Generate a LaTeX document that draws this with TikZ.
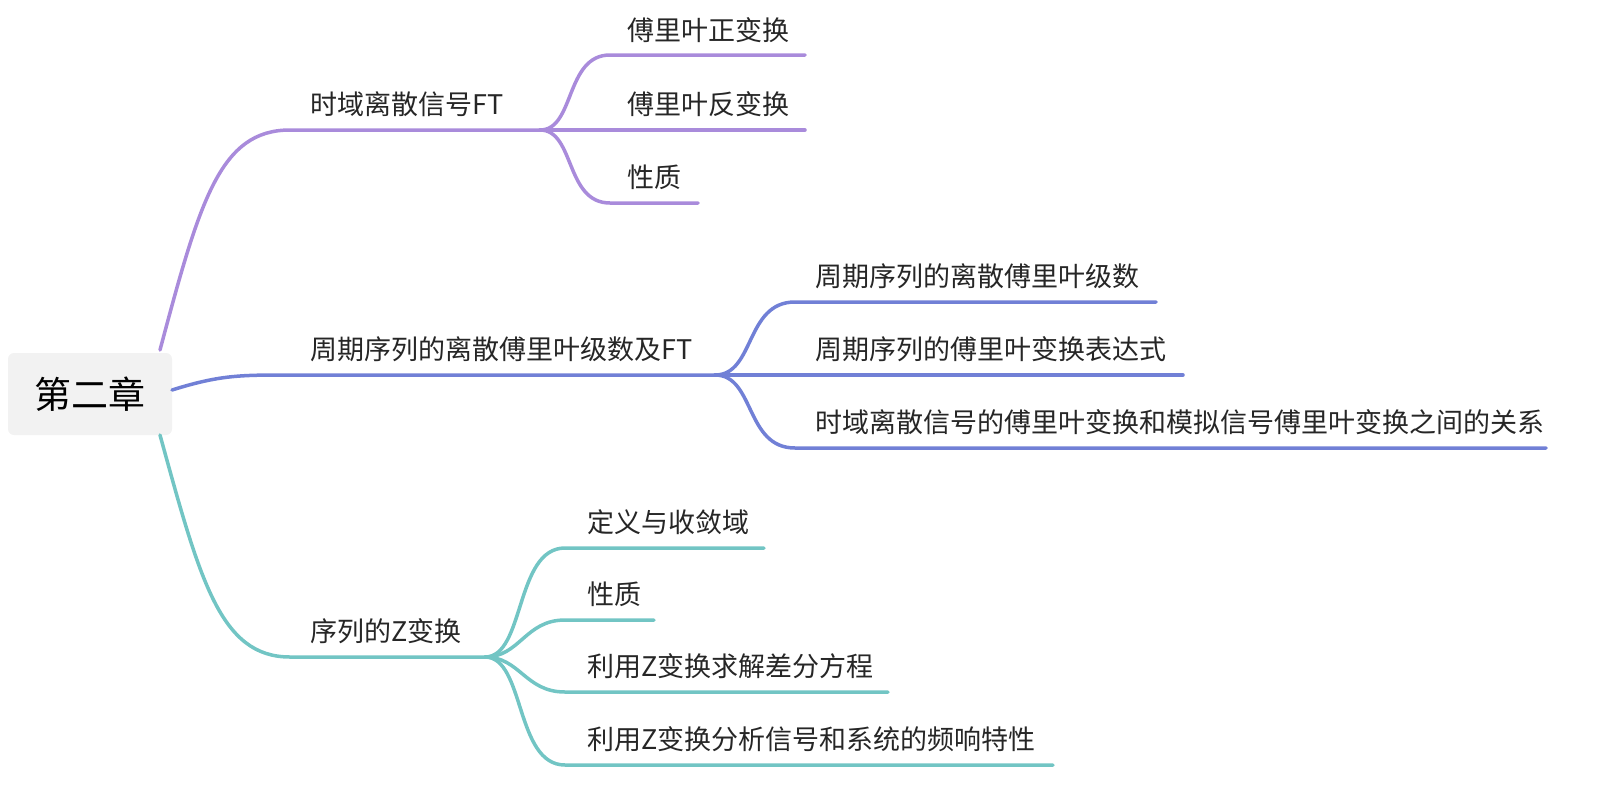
\documentclass[tikz,border=0pt]{standalone}
\usepackage{fontspec}
\setmainfont{Noto Sans CJK SC}
\definecolor{purpleL}{HTML}{A98BDB}
\definecolor{blueL}{HTML}{7180D6}
\definecolor{tealL}{HTML}{72C5C4}
\begin{document}
\begin{tikzpicture}[x=1pt,y=-1pt,
  lbl/.style={anchor=west,font=\fontsize{27}{30}\selectfont,text=black!85,inner sep=0pt},
  cP/.style={draw=purpleL,line width=3.5pt,line cap=round},
  cB/.style={draw=blueL,line width=3.5pt,line cap=round},
  cT/.style={draw=tealL,line width=3.5pt,line cap=round}]
\useasboundingbox (0,0) rectangle (1620,796);
\node[fill=black!5,rounded corners=6pt,minimum width=164pt,minimum height=82pt,font=\fontsize{37}{40}\selectfont] (root) at (90,394) {第二章};
% level 1
\node[lbl] (a) at (310,104) {时域离散信号FT};
\node[lbl] (b) at (310,349) {周期序列的离散傅里叶级数及FT};
\node[lbl] (c) at (310,631) {序列的Z变换};
\coordinate (ae) at (540,130); \coordinate (be) at (715,375); \coordinate (ce) at (485,657);
\draw[cP] (160,350) .. controls (200,200) and (220,130) .. (290,130) -- (ae);
\draw[cB] (172,390) .. controls (220,375) and (240,375) .. (290,375) -- (be);
\draw[cT] (160,435) .. controls (200,580) and (220,657) .. (290,657) -- (ce);
% children a
\node[lbl] (a1) at (627,30) {傅里叶正变换};
\node[lbl] (a2) at (627,104) {傅里叶反变换};
\node[lbl] (a3) at (627,177) {性质};
\draw[cP] (ae) .. controls (575,130) and (565,55) .. (610,55) -- (805,55);
\draw[cP] (ae) -- (805,130);
\draw[cP] (ae) .. controls (575,130) and (565,203) .. (610,203) -- (698,203);
% children b
\node[lbl] (b1) at (815,276) {周期序列的离散傅里叶级数};
\node[lbl] (b2) at (815,349) {周期序列的傅里叶变换表达式};
\node[lbl] (b3) at (815,422) {时域离散信号的傅里叶变换和模拟信号傅里叶变换之间的关系};
\draw[cB] (be) .. controls (755,375) and (745,302) .. (795,302) -- (1156,302);
\draw[cB] (be) -- (1183,375);
\draw[cB] (be) .. controls (755,375) and (745,448) .. (795,448) -- (1546,448);
% children c
\node[lbl] (c1) at (587,522) {定义与收敛域};
\node[lbl] (c2) at (587,594) {性质};
\node[lbl] (c3) at (587,666) {利用Z变换求解差分方程};
\node[lbl] (c4) at (587,739) {利用Z变换分析信号和系统的频响特性};
\draw[cT] (ce) .. controls (525,657) and (515,548) .. (565,548) -- (764,548);
\draw[cT] (ce) .. controls (520,657) and (525,620) .. (565,620) -- (654,620);
\draw[cT] (ce) .. controls (520,657) and (525,692) .. (565,692) -- (888,692);
\draw[cT] (ce) .. controls (525,657) and (515,765) .. (565,765) -- (1053,765);
\end{tikzpicture}
\end{document}
